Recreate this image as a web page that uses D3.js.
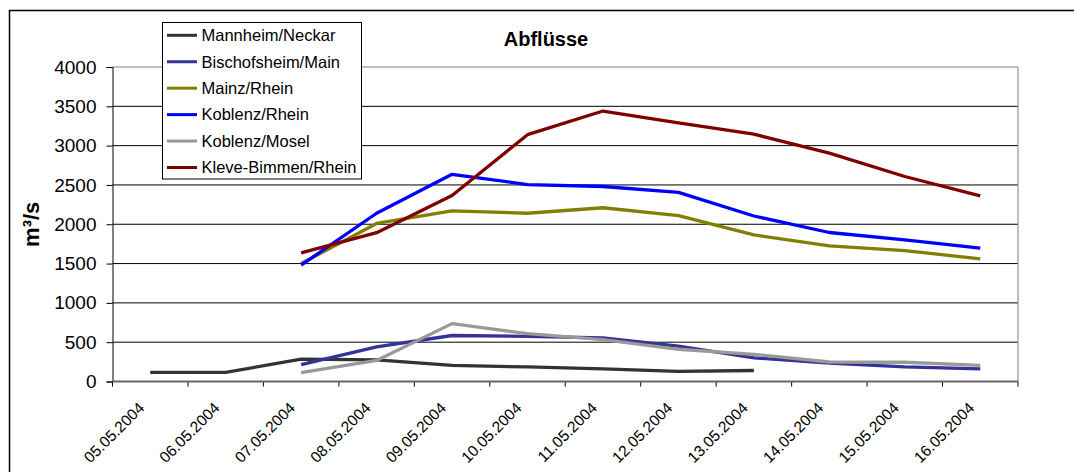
<!DOCTYPE html>
<html>
<head>
<meta charset="utf-8">
<script src="https://cdn.jsdelivr.net/npm/d3@7/dist/d3.min.js"></script>
<style>
  html, body { margin: 0; padding: 0; background: #fff; }
  svg { display: block; font-family: "Liberation Sans", Arial, sans-serif; }
</style>
</head>
<body>
<svg id="chart" width="1074" height="472"></svg>
<script>
// Messdaten: Abflüsse (m³/s) an den Pegeln, 05.05.–16.05.2004
const dates = ["05.05.2004", "06.05.2004", "07.05.2004", "08.05.2004", "09.05.2004", "10.05.2004",
               "11.05.2004", "12.05.2004", "13.05.2004", "14.05.2004", "15.05.2004", "16.05.2004"];
const yTicks = [0, 500, 1000, 1500, 2000, 2500, 3000, 3500, 4000];

const mannheimNeckar     = [115, 115, 285, 275, 205, 185, 160, 130, 140, null, null, null];
const bischofsheimMain   = [null, null, 215, 440, 585, 575, 555, 450, 300, 235, 185, 160];
const mainzRhein         = [null, null, 1500, 2010, 2170, 2140, 2210, 2110, 1865, 1725, 1665, 1560];
const koblenzRhein       = [null, null, 1480, 2140, 2635, 2505, 2480, 2405, 2105, 1895, 1800, 1695];
const koblenzMosel       = [null, null, 112, 268, 736, 608, 532, 410, 345, 248, 245, 205];
const kleveBimmenRhein   = [null, null, 1637, 1893, 2365, 3139, 3440, 3288, 3145, 2905, 2607, 2361];

const series = [
  { name: "Mannheim/Neckar",     values: mannheimNeckar,   color: "#333333" },
  { name: "Bischofsheim/Main",   values: bischofsheimMain, color: "#333399" },
  { name: "Mainz/Rhein",         values: mainzRhein,       color: "#808000" },
  { name: "Koblenz/Rhein",       values: koblenzRhein,     color: "#0000ff" },
  { name: "Koblenz/Mosel",       values: koblenzMosel,     color: "#999999" },
  { name: "Kleve-Bimmen/Rhein",  values: kleveBimmenRhein, color: "#800000" }
];

const svg = d3.select("#chart");

// Chart frame
svg.append("path")
  .attr("d", "M9.5,472 V10.5 H1074")
  .attr("fill", "none").attr("stroke", "#000").attr("stroke-width", 1.5);

const plot = { left: 112.5, right: 1018, top: 67, bottom: 381.5 };

const x = d3.scaleBand().domain(dates).range([plot.left, plot.right]).padding(0);
const y = d3.scaleLinear().domain([0, 4000]).range([plot.bottom, plot.top]);

// Horizontal gridlines
svg.append("g")
  .selectAll("line")
  .data(yTicks.filter(v => v > 0 && v < 4000))
  .join("line")
  .attr("x1", plot.left).attr("x2", plot.right)
  .attr("y1", d => y(d)).attr("y2", d => y(d))
  .attr("stroke", "#000").attr("stroke-width", 1);

// Plot area border (top and right)
svg.append("path")
  .attr("d", `M${plot.left},${plot.top} H${plot.right} V${plot.bottom}`)
  .attr("fill", "none").attr("stroke", "#808080").attr("stroke-width", 1);

// Y axis
const yAxis = d3.axisLeft(y).tickValues(yTicks).tickSize(6).tickPadding(10).tickFormat(d3.format("d"));
const gy = svg.append("g").attr("transform", `translate(${plot.left},0)`).call(yAxis);
gy.select(".domain").attr("stroke", "#000");
gy.selectAll(".tick line").attr("stroke", "#000");
gy.selectAll(".tick text")
  .attr("font-size", 19).attr("fill", "#000")
  .attr("font-family", "'Liberation Sans', Arial, sans-serif");

// X axis: ticks at category boundaries
const boundaries = dates.map(d => x(d)).concat([plot.right]);
svg.append("g")
  .selectAll("line")
  .data(boundaries)
  .join("line")
  .attr("x1", d => d).attr("x2", d => d)
  .attr("y1", plot.bottom).attr("y2", plot.bottom + 5)
  .attr("stroke", "#000").attr("stroke-width", 1);
svg.append("line")
  .attr("x1", plot.left).attr("x2", plot.right)
  .attr("y1", plot.bottom).attr("y2", plot.bottom)
  .attr("stroke", "#666").attr("stroke-width", 2);

svg.append("g")
  .selectAll("text")
  .data(dates)
  .join("text")
  .attr("transform", d => `translate(${x(d) + x.bandwidth() / 2 - 5},409) rotate(-45)`)
  .attr("text-anchor", "end")
  .attr("font-size", 15.5)
  .attr("fill", "#000")
  .text(d => d);

// Data lines
const line = d3.line()
  .defined(d => d.v !== null)
  .x(d => x(d.date) + x.bandwidth() / 2)
  .y(d => y(d.v));

svg.append("g")
  .selectAll("path")
  .data(series)
  .join("path")
  .attr("d", s => line(s.values.map((v, i) => ({ date: dates[i], v }))))
  .attr("fill", "none")
  .attr("stroke", s => s.color)
  .attr("stroke-width", 3.3)
  .attr("stroke-linejoin", "round");

// Title
svg.append("text")
  .attr("x", 546).attr("y", 46)
  .attr("text-anchor", "middle")
  .attr("font-size", 20).attr("font-weight", "bold")
  .text("Abflüsse");

// Y axis title
svg.append("text")
  .attr("transform", `translate(39,${(plot.top + plot.bottom) / 2}) rotate(-90)`)
  .attr("text-anchor", "middle")
  .attr("font-size", 22).attr("font-weight", "bold")
  .text("m³/s");

// Legend
const legend = svg.append("g");
legend.append("rect")
  .attr("x", 162.5).attr("y", 22.5).attr("width", 199).attr("height", 156.5)
  .attr("fill", "#fff").attr("stroke", "#000").attr("stroke-width", 1);
const rowY = d3.scalePoint().domain(series.map(s => s.name)).range([35.3, 167.5]);
const item = legend.selectAll("g.item").data(series).join("g")
  .attr("class", "item")
  .attr("transform", s => `translate(0,${rowY(s.name)})`);
item.append("line")
  .attr("x1", 167).attr("x2", 197).attr("y1", 0).attr("y2", 0)
  .attr("stroke", s => s.color).attr("stroke-width", 3);
item.append("text")
  .attr("x", 201.5).attr("y", 0).attr("dy", "0.35em")
  .attr("font-size", 16.5).attr("fill", "#000")
  .text(s => s.name);
</script>
</body>
</html>
